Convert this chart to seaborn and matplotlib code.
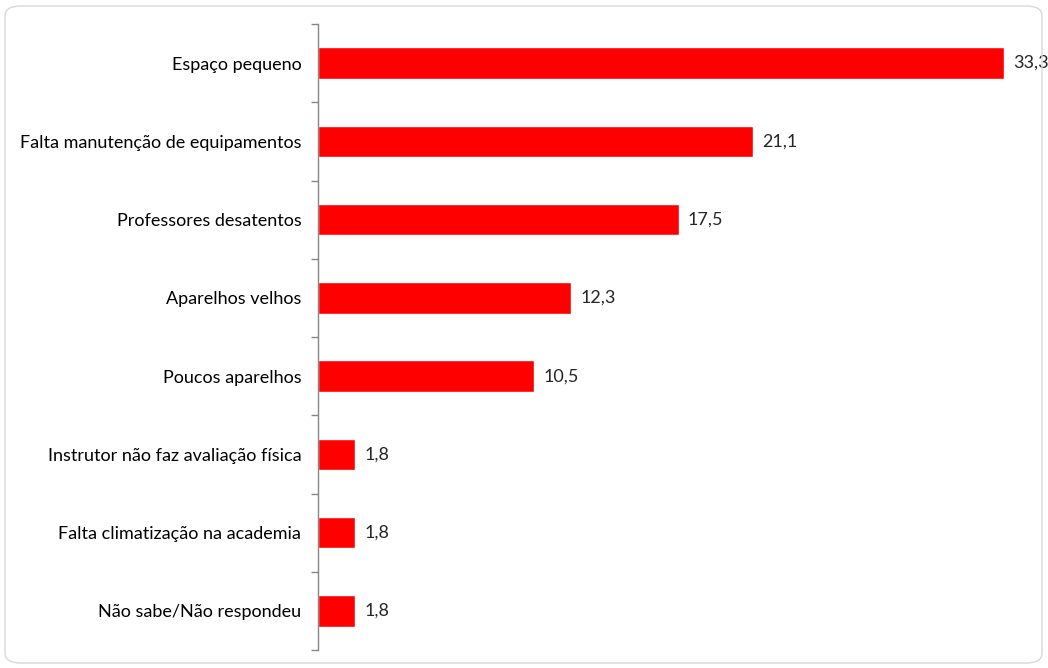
import matplotlib
matplotlib.use("Agg")
import matplotlib.pyplot as plt
from matplotlib.patches import FancyBboxPatch
from matplotlib.ticker import FixedLocator
import seaborn as sns
import pandas as pd
import numpy as np

categories = ["Espaço pequeno", "Falta manutenção de equipamentos", "Professores desatentos",
              "Aparelhos velhos", "Poucos aparelhos", "Instrutor não faz avaliação física",
              "Falta climatização na academia", "Não sabe/Não respondeu"]
values = [33.3, 21.1, 17.5, 12.3, 10.5, 1.8, 1.8, 1.8]

sns.set_style("white")
plt.rcParams['font.family'] = ['Lato', 'DejaVu Sans']

df = pd.DataFrame({"cat": categories, "val": values})

fig = plt.figure(figsize=(10.48, 6.68), dpi=100)
ax = fig.add_axes([318/1048, 1 - 650/668, (1004 - 318)/1048, (650 - 24)/668])

sns.barplot(data=df, y="cat", x="val", orient="h", color="#FF0000", width=0.4,
            saturation=1, ax=ax)

ax.set_xlim(0, 33.3)
ax.set_ylim(len(categories) - 0.5, -0.5)
ax.set_xlabel("")
ax.set_ylabel("")
ax.set_xticks([])
for s in ["top", "right", "bottom"]:
    ax.spines[s].set_visible(False)
ax.spines["left"].set_color("#868686")
ax.spines["left"].set_linewidth(1.0)

ax.tick_params(axis="y", which="major", length=0, labelsize=13, pad=12, colors="#000000")
ax.yaxis.set_minor_locator(FixedLocator(np.arange(-0.5, len(categories), 1.0)))
ax.tick_params(axis="y", which="minor", left=True, length=5, color="#868686", width=1.0)

for i, v in enumerate(values):
    ax.text(v + 0.45, i, f"{v:.1f}".replace(".", ","), va="center", ha="left",
            fontsize=13, clip_on=False)

border = FancyBboxPatch((5/1048, 5/668), 1037/1048, 657/668,
                        boxstyle="round,pad=0,rounding_size=0.015",
                        transform=fig.transFigure, fill=False,
                        edgecolor="#D9D9D9", linewidth=1.0)
fig.patches.append(border)

fig.savefig("out.png", dpi=100)
